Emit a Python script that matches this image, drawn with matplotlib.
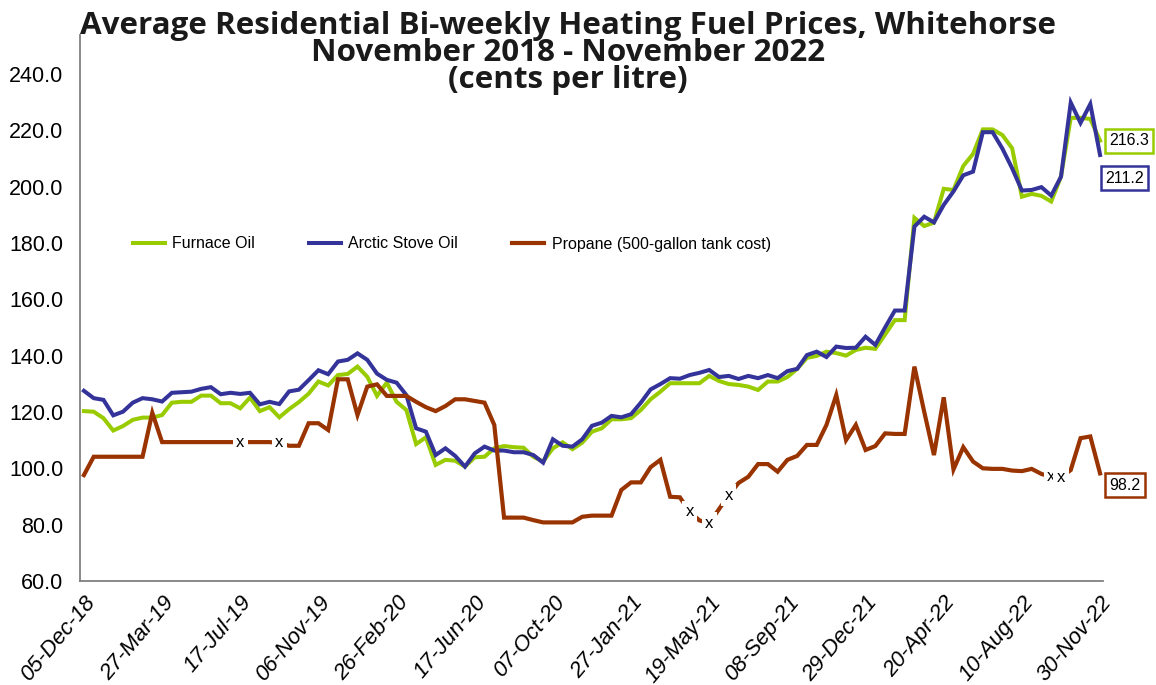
import numpy as np
import pandas as pd
import matplotlib
matplotlib.use('Agg')
import matplotlib.pyplot as plt

plt.rcParams['font.family'] = ['Liberation Sans', 'DejaVu Sans']

# Bi-weekly survey dates, 05-Dec-18 .. 30-Nov-22
dates = pd.date_range('2018-12-05', '2022-11-30', freq='14D')

furnace_oil = [
    120.3, 120.1, 117.8, 113.4, 115.0, 117.2, 118.0, 118.0, 118.9, 123.3,
    123.6, 123.6, 125.8, 125.8, 123.1, 123.1, 121.3, 125.1, 120.3, 121.7,
    118.1, 121.0, 123.5, 126.5, 130.8, 129.4, 133.1, 133.5, 136.1, 132.5,
    125.7, 130.4, 123.6, 120.7, 108.6, 111.0, 101.2, 103.0, 102.7, 100.6,
    103.9, 104.1, 107.1, 107.9, 107.5, 107.3, 104.1, 102.4, 107.1, 109.2,
    106.8, 109.1, 113.0, 114.2, 117.4, 117.4, 117.8, 120.7, 124.5, 127.2,
    130.2, 130.2, 130.2, 130.2, 132.8, 131.0, 129.9, 129.6, 129.0, 127.8,
    130.8, 130.8, 132.4, 135.3, 139.2, 139.9, 141.4, 140.9, 140.0, 142.0,
    142.8, 142.4, 147.5, 152.6, 152.6, 188.9, 186.0, 187.2, 199.2, 198.8,
    207.3, 211.6, 220.3, 220.3, 218.3, 213.6, 196.4, 197.4, 196.7, 194.7,
    203.5, 224.4, 224.4, 224.0, 216.3,
]

arctic_stove_oil = [
    127.5, 124.9, 124.3, 118.8, 120.1, 123.3, 124.9, 124.5, 123.7, 126.8,
    127.0, 127.2, 128.2, 128.8, 126.3, 126.8, 126.4, 126.8, 122.7, 123.6,
    122.8, 127.3, 127.9, 131.3, 134.8, 133.4, 137.9, 138.5, 140.8, 138.5,
    133.6, 131.4, 130.4, 126.0, 114.2, 113.0, 104.7, 107.1, 104.4, 100.6,
    105.3, 107.7, 106.3, 106.3, 105.7, 105.7, 104.7, 102.0, 110.3, 108.0,
    107.7, 110.3, 115.1, 116.2, 118.6, 118.1, 119.2, 123.3, 128.0, 129.9,
    132.0, 131.8, 133.1, 133.9, 134.9, 132.4, 132.8, 131.7, 132.8, 132.0,
    133.1, 132.0, 134.5, 135.3, 140.2, 141.4, 139.5, 143.2, 142.7, 142.8,
    146.7, 143.8, 150.0, 156.0, 156.0, 185.8, 189.3, 187.3, 193.5, 198.3,
    204.0, 205.3, 219.3, 219.3, 213.5, 206.5, 198.6, 198.8, 199.8, 196.8,
    203.5, 229.8, 222.6, 229.3, 211.2,
]

propane = [
    97.6, 104.1, 104.1, 104.1, 104.1, 104.1, 104.1, 119.7, 109.3, 109.3,
    109.3, 109.3, 109.3, 109.3, 109.3, 109.3, 109.3, 109.3, 109.3, 109.3,
    109.0, 108.0, 108.0, 116.0, 116.0, 113.6, 131.6, 131.6, 118.9, 129.0,
    129.8, 125.7, 125.7, 125.7, 123.6, 121.7, 120.3, 122.1, 124.5, 124.5,
    123.9, 123.3, 115.4, 82.5, 82.5, 82.5, 81.6, 80.8, 80.8, 80.8,
    80.8, 82.8, 83.2, 83.2, 83.2, 92.3, 95.0, 95.0, 100.4, 103.0,
    89.9, 89.7, 84.5, 81.5, 80.5, 85.5, 90.5, 94.8, 97.0, 101.5,
    101.5, 98.8, 103.0, 104.4, 108.3, 108.3, 115.4, 126.0, 110.0, 115.4,
    106.5, 107.9, 112.4, 112.2, 112.2, 136.1, 120.1, 104.7, 125.2, 99.6,
    107.5, 102.4, 100.0, 99.8, 99.8, 99.2, 99.0, 99.8, 98.0, 97.0,
    96.8, 99.4, 110.7, 111.3, 98.2,
]

# survey periods flagged with an "x" on the propane series
propane_flagged = [16, 20, 62, 64, 66, 99, 100]

green = '#99CC00'
blue = '#333399'
brown = '#993300'

fig = plt.figure(figsize=(11.56, 6.85), dpi=100)
ax = fig.add_axes([80 / 1156, 1 - 581 / 685, 1023 / 1156, 546 / 685])

x = np.arange(len(dates))
ax.plot(x, furnace_oil, color=green, lw=2.9, label='Furnace Oil', solid_joinstyle='miter')
ax.plot(x, arctic_stove_oil, color=blue, lw=2.9, label='Arctic Stove Oil', solid_joinstyle='miter')
ax.plot(x, propane, color=brown, lw=3.0, label='Propane (500-gallon tank cost)', solid_joinstyle='miter')

for i in propane_flagged:
    ax.text(i, propane[i], 'x', ha='center', va='center', fontsize=12, zorder=5,
            bbox=dict(boxstyle='square,pad=0.2', fc='white', ec='none'))

# end-of-series value boxes
ends = [(furnace_oil, green, 9, 0), (arctic_stove_oil, blue, 5, -23), (propane, brown, 9, -12)]
for series, col, dx, dy in ends:
    ax.annotate(f'{series[-1]:.1f}', xy=(x[-1], series[-1]), xytext=(dx, dy),
                textcoords='offset pixels', ha='left', va='center', fontsize=11.5,
                annotation_clip=False,
                bbox=dict(boxstyle='square,pad=0.28', fc='white', ec=col, lw=1.8))

ax.set_xlim(-0.4, 104.3)
ax.set_ylim(60, 253.8)
ax.set_yticks(np.arange(60, 241, 20))
ax.set_yticklabels([f'{v:.1f}' for v in np.arange(60, 241, 20)], fontsize=15.5)
ticks = x[::8]
ax.set_xticks(ticks)
ax.set_xticklabels([dates[i].strftime('%d-%b-%y') for i in ticks], rotation=50,
                   ha='right', rotation_mode='anchor', fontsize=16, fontstyle='italic')
ax.tick_params(length=0)
ax.tick_params(axis='y', pad=12)
ax.tick_params(axis='x', pad=8)

for side in ['top', 'right']:
    ax.spines[side].set_visible(False)
for side in ['left', 'bottom']:
    ax.spines[side].set_color('#808080')
    ax.spines[side].set_linewidth(1.3)

ax.legend(loc='center left', bbox_to_anchor=(133 / 1156, 1 - 244 / 685),
          bbox_transform=fig.transFigure, ncol=3, frameon=False, fontsize=11.5,
          handlelength=2.0, handletextpad=0.45, columnspacing=3.4,
          borderpad=0, borderaxespad=0)

fig.text(0.491, 1 - 11 / 685,
         'Average Residential Bi-weekly Heating Fuel Prices, Whitehorse\n'
         'November 2018 - November 2022\n(cents per litre)',
         ha='center', va='top', fontsize=22.6, fontweight='bold',
         family='Open Sans', linespacing=0.88, color='#1a1a1a')

fig.savefig('out.png', dpi=100)
